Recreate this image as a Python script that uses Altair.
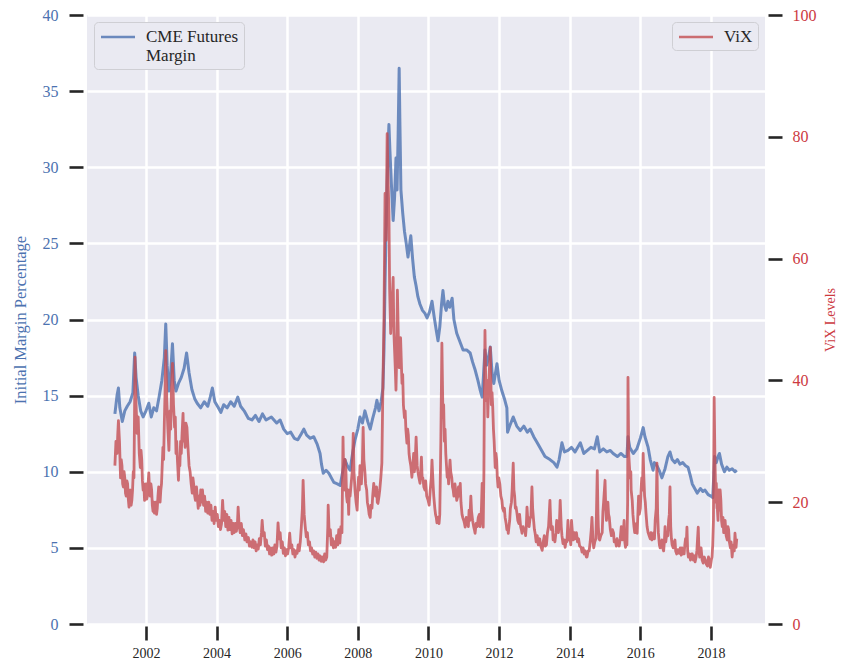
import altair as alt
import pandas as pd

# ---- CME futures initial margin (% , left axis) ----
m_year = [2001.12, 2001.18, 2001.22, 2001.26, 2001.33, 2001.40, 2001.47, 2001.55, 2001.63, 2001.68,
          2001.72, 2001.78, 2001.85, 2001.92, 2002.00, 2002.08, 2002.15, 2002.22, 2002.30, 2002.37,
          2002.45, 2002.52, 2002.56, 2002.60, 2002.65, 2002.70, 2002.75, 2002.80, 2002.85, 2002.92,
          2003.00, 2003.08, 2003.15, 2003.22, 2003.30, 2003.38, 2003.45, 2003.55, 2003.65, 2003.75,
          2003.82, 2003.88, 2003.95, 2004.05, 2004.12, 2004.20, 2004.30, 2004.40, 2004.50, 2004.60,
          2004.68, 2004.78, 2004.90, 2005.00, 2005.10, 2005.20, 2005.30, 2005.40, 2005.55, 2005.70,
          2005.80, 2005.90, 2006.00, 2006.10, 2006.20, 2006.30, 2006.40, 2006.47, 2006.55, 2006.65,
          2006.75, 2006.85, 2006.93, 2006.97, 2007.02, 2007.10, 2007.18, 2007.25, 2007.32, 2007.42,
          2007.50, 2007.57, 2007.63, 2007.70, 2007.78, 2007.85, 2007.92, 2008.00, 2008.06, 2008.13,
          2008.20, 2008.28, 2008.35, 2008.42, 2008.50, 2008.54, 2008.60, 2008.66, 2008.71, 2008.74,
          2008.77, 2008.80, 2008.83, 2008.86, 2008.88, 2008.91, 2008.95, 2009.00, 2009.04, 2009.08,
          2009.11, 2009.14, 2009.17, 2009.19, 2009.22, 2009.27, 2009.32, 2009.37, 2009.42, 2009.47,
          2009.50, 2009.55, 2009.60, 2009.65, 2009.70, 2009.76, 2009.83, 2009.90, 2009.96, 2010.03,
          2010.10, 2010.16, 2010.22, 2010.27, 2010.32, 2010.37, 2010.41, 2010.45, 2010.50, 2010.55,
          2010.60, 2010.67, 2010.72, 2010.80, 2010.88, 2010.98, 2011.08, 2011.18, 2011.25, 2011.32,
          2011.40, 2011.46, 2011.52, 2011.55, 2011.60, 2011.65, 2011.70, 2011.75, 2011.80, 2011.85,
          2011.94, 2012.00, 2012.08, 2012.15, 2012.22, 2012.24, 2012.30, 2012.40, 2012.50, 2012.60,
          2012.70, 2012.80, 2012.88, 2012.98, 2013.08, 2013.18, 2013.30, 2013.44, 2013.55, 2013.64,
          2013.70, 2013.78, 2013.85, 2013.95, 2014.05, 2014.15, 2014.30, 2014.40, 2014.50, 2014.60,
          2014.70, 2014.78, 2014.85, 2014.95, 2015.05, 2015.15, 2015.23, 2015.35, 2015.45, 2015.55,
          2015.62, 2015.65, 2015.70, 2015.80, 2015.90, 2016.00, 2016.08, 2016.13, 2016.22, 2016.28,
          2016.36, 2016.40, 2016.47, 2016.55, 2016.61, 2016.70, 2016.78, 2016.84, 2016.90, 2016.98,
          2017.05, 2017.12, 2017.20, 2017.28, 2017.35, 2017.42, 2017.47, 2017.54, 2017.61, 2017.70,
          2017.77, 2017.83, 2017.92, 2018.00, 2018.05, 2018.08, 2018.10, 2018.15, 2018.20, 2018.24,
          2018.30, 2018.38, 2018.45, 2018.52, 2018.60, 2018.68, 2018.73]
m_val = [13.8, 15.0, 15.5, 14.2, 13.3, 14.0, 14.3, 14.6, 15.2, 17.8,
         16.2, 15.0, 14.0, 13.6, 14.0, 14.5, 13.6, 14.2, 14.0, 14.9,
         16.0, 17.5, 19.7, 17.0, 15.3, 16.5, 18.4, 16.0, 15.3, 15.8,
         16.2, 16.8, 17.8, 16.5, 15.4, 14.8, 14.5, 14.2, 14.6, 14.3,
         14.9, 15.5, 14.6, 14.2, 13.9, 14.4, 14.2, 14.6, 14.3, 14.9,
         14.3, 14.0, 13.5, 13.4, 13.7, 13.3, 13.8, 13.4, 13.6, 13.2,
         13.4, 12.8, 12.5, 12.6, 12.2, 12.1, 12.5, 12.8, 12.4, 12.2,
         12.3, 11.8, 11.2, 10.5, 9.9, 10.1, 9.9, 9.6, 9.3, 9.2,
         9.1, 10.0, 10.8, 10.4, 10.1, 11.2, 12.1, 12.8, 13.6, 13.2,
         14.0, 13.3, 12.8, 13.5, 14.2, 14.7, 14.0, 14.6, 15.5, 18.0,
         22.4, 26.0, 28.9, 31.5, 32.8, 31.0, 28.9, 26.5, 28.0, 30.6,
         28.5, 32.0, 36.5, 33.0, 28.5, 27.0, 25.8, 25.0, 24.1, 25.0,
         25.5, 24.0, 22.8, 22.2, 21.5, 21.0, 20.6, 20.4, 20.1, 20.5,
         21.2, 20.2, 19.3, 18.6, 19.5, 21.0, 21.9, 21.0, 20.6, 21.2,
         20.8, 21.4, 20.0, 19.1, 18.6, 18.0, 18.0, 17.8, 17.2, 16.7,
         16.0, 15.4, 14.9, 16.0, 18.0, 17.0, 17.5, 18.2, 16.5, 15.8,
         17.1, 16.0, 15.3, 14.8, 14.2, 12.6, 13.0, 13.6, 13.0, 12.7,
         13.0, 12.6, 12.8, 12.3, 11.9, 11.5, 11.0, 10.8, 10.6, 10.3,
         10.8, 11.9, 11.3, 11.4, 11.6, 11.3, 11.9, 11.2, 11.4, 11.6,
         11.5, 12.3, 11.3, 11.5, 11.3, 11.4, 11.2, 11.0, 11.2, 11.0,
         11.0, 12.3, 11.6, 11.2, 11.5, 12.2, 12.9, 12.3, 11.6, 10.8,
         10.1, 10.6, 10.4, 10.0, 9.6, 10.2, 11.0, 11.3, 10.8, 10.6,
         10.8, 10.5, 10.6, 10.4, 10.3, 9.7, 9.2, 8.9, 8.6, 8.9,
         8.7, 8.8, 8.5, 8.4, 8.3, 9.8, 11.0, 10.6, 11.0, 11.2,
         10.5, 10.0, 10.3, 10.1, 10.2, 10.0, 10.1]

# ---- VIX level (right axis), (decimal year, level) ----
vix_2001_2003 = [
    (2001.12, 26.0), (2001.15, 30.0), (2001.18, 28.0), (2001.20, 31.0), (2001.22, 33.4), (2001.25, 30.0),
    (2001.28, 24.0), (2001.30, 27.0), (2001.32, 26.0), (2001.34, 23.0), (2001.36, 22.5), (2001.38, 25.0),
    (2001.40, 24.0), (2001.42, 21.5), (2001.44, 21.0), (2001.46, 23.5), (2001.48, 23.0), (2001.50, 20.5),
    (2001.52, 19.2), (2001.54, 21.0), (2001.56, 22.0), (2001.58, 19.5), (2001.60, 20.3), (2001.62, 22.0),
    (2001.64, 25.0), (2001.66, 24.0), (2001.69, 43.8), (2001.72, 36.0), (2001.75, 31.3), (2001.78, 34.0),
    (2001.81, 28.0), (2001.84, 25.7), (2001.86, 28.5), (2001.88, 27.0), (2001.90, 23.5), (2001.92, 22.0),
    (2001.94, 23.0), (2001.96, 20.3), (2001.98, 22.5), (2002.00, 23.0), (2002.02, 20.5), (2002.04, 21.0),
    (2002.06, 23.0), (2002.08, 24.8), (2002.10, 22.0), (2002.12, 21.0), (2002.14, 23.0), (2002.16, 22.0),
    (2002.18, 19.5), (2002.20, 18.5), (2002.22, 20.0), (2002.24, 18.2), (2002.26, 19.5), (2002.28, 20.0),
    (2002.30, 18.0), (2002.32, 19.0), (2002.34, 21.0), (2002.36, 22.5), (2002.38, 20.5), (2002.40, 20.0),
    (2002.42, 22.0), (2002.44, 23.0), (2002.46, 26.0), (2002.48, 29.0), (2002.50, 27.0), (2002.52, 33.0),
    (2002.54, 38.0), (2002.56, 44.9), (2002.59, 36.7), (2002.62, 32.0), (2002.65, 28.5), (2002.68, 35.0),
    (2002.70, 32.0), (2002.72, 38.0), (2002.75, 42.8), (2002.78, 36.0), (2002.81, 32.3), (2002.83, 34.0),
    (2002.85, 28.0), (2002.87, 30.0), (2002.89, 27.0), (2002.92, 23.6), (2002.94, 27.0), (2002.96, 26.0),
    (2002.98, 30.0), (2003.00, 28.0), (2003.02, 31.0), (2003.05, 34.6), (2003.07, 30.0), (2003.09, 31.0),
    (2003.11, 29.0), (2003.13, 33.0), (2003.16, 32.3), (2003.18, 30.0), (2003.20, 28.0), (2003.22, 26.0),
    (2003.25, 25.0), (2003.28, 23.0), (2003.31, 21.5), (2003.33, 24.0), (2003.35, 23.0), (2003.38, 21.0),
]
vix_2003_2007 = [
    (2003.40, 20.3), (2003.43, 22.5), (2003.45, 21.0), (2003.48, 19.0), (2003.50, 21.0), (2003.53, 19.5),
    (2003.55, 22.0), (2003.58, 20.0), (2003.60, 22.0), (2003.63, 19.5), (2003.66, 21.0), (2003.69, 18.5),
    (2003.72, 20.0), (2003.75, 18.2), (2003.78, 20.0), (2003.81, 18.0), (2003.84, 19.5), (2003.87, 17.0),
    (2003.90, 18.5), (2003.93, 16.5), (2003.96, 19.2), (2003.99, 17.0), (2004.02, 18.0), (2004.05, 16.0),
    (2004.08, 17.0), (2004.11, 15.5), (2004.14, 16.5), (2004.17, 20.3), (2004.20, 17.0), (2004.23, 18.5),
    (2004.26, 16.0), (2004.29, 18.0), (2004.32, 15.4), (2004.35, 17.5), (2004.38, 15.5), (2004.41, 17.0),
    (2004.44, 14.8), (2004.47, 16.5), (2004.50, 15.0), (2004.53, 16.5), (2004.56, 15.2), (2004.59, 16.5),
    (2004.61, 19.2), (2004.64, 16.0), (2004.67, 15.0), (2004.70, 16.5), (2004.73, 14.5), (2004.76, 15.5),
    (2004.80, 13.8), (2004.83, 14.8), (2004.86, 13.5), (2004.90, 14.2), (2004.93, 12.8), (2004.96, 13.5),
    (2005.00, 12.6), (2005.03, 13.8), (2005.06, 12.5), (2005.09, 13.5), (2005.12, 12.0), (2005.15, 13.0),
    (2005.18, 12.3), (2005.21, 14.0), (2005.24, 13.0), (2005.27, 15.0), (2005.29, 17.0), (2005.32, 14.5),
    (2005.35, 15.0), (2005.38, 12.8), (2005.41, 13.8), (2005.44, 12.2), (2005.47, 12.8), (2005.50, 11.5),
    (2005.53, 12.5), (2005.56, 11.3), (2005.59, 12.5), (2005.62, 11.5), (2005.65, 13.0), (2005.68, 11.8),
    (2005.71, 12.8), (2005.74, 16.6), (2005.77, 14.0), (2005.80, 15.0), (2005.83, 12.5), (2005.86, 13.5),
    (2005.89, 11.6), (2005.92, 12.5), (2005.95, 11.2), (2005.98, 12.2), (2006.01, 11.5), (2006.04, 12.5),
    (2006.07, 14.9), (2006.10, 12.5), (2006.13, 13.0), (2006.16, 11.5), (2006.19, 12.2), (2006.22, 11.0),
    (2006.25, 12.0), (2006.28, 11.6), (2006.31, 13.0), (2006.34, 12.0), (2006.37, 13.5), (2006.40, 16.0),
    (2006.43, 19.0), (2006.45, 23.6), (2006.48, 18.0), (2006.51, 16.0), (2006.54, 14.3), (2006.57, 15.0),
    (2006.60, 13.0), (2006.63, 13.5), (2006.66, 12.0), (2006.69, 12.5), (2006.72, 11.5), (2006.75, 12.0),
    (2006.78, 11.0), (2006.81, 11.8), (2006.84, 10.8), (2006.87, 11.5), (2006.90, 10.5), (2006.93, 11.2),
    (2006.96, 10.3), (2007.00, 11.0), (2007.03, 10.2), (2007.06, 11.5), (2007.09, 10.5), (2007.12, 11.0),
    (2007.15, 16.0), (2007.16, 19.5), (2007.19, 14.5), (2007.22, 15.5), (2007.25, 13.0), (2007.28, 14.0),
    (2007.31, 12.5), (2007.34, 13.5), (2007.37, 12.6), (2007.40, 14.5), (2007.43, 13.0), (2007.46, 15.5),
    (2007.49, 13.3), (2007.52, 16.0), (2007.55, 15.0),
]
vix_2007_2011 = [
    (2007.58, 30.7), (2007.60, 24.0), (2007.62, 22.0), (2007.64, 27.0), (2007.66, 25.7), (2007.68, 21.0),
    (2007.70, 20.0), (2007.72, 22.0), (2007.74, 18.0), (2007.76, 22.0), (2007.78, 21.0), (2007.81, 23.0),
    (2007.84, 25.0), (2007.87, 31.3), (2007.89, 25.0), (2007.92, 22.0), (2007.95, 20.0), (2007.98, 18.7),
    (2008.00, 22.0), (2008.02, 24.1), (2008.04, 22.0), (2008.06, 26.0), (2008.08, 24.0), (2008.10, 23.0),
    (2008.13, 27.0), (2008.15, 32.3), (2008.17, 27.0), (2008.20, 25.0), (2008.22, 23.0), (2008.25, 22.0),
    (2008.27, 20.0), (2008.30, 19.0), (2008.32, 18.0), (2008.35, 17.5), (2008.37, 19.5), (2008.40, 19.0),
    (2008.42, 21.0), (2008.45, 23.1), (2008.47, 22.0), (2008.50, 21.0), (2008.53, 22.5), (2008.55, 20.0),
    (2008.57, 19.8), (2008.60, 21.0), (2008.62, 22.0), (2008.65, 24.0), (2008.68, 26.4), (2008.71, 39.5),
    (2008.74, 50.0), (2008.77, 70.7), (2008.80, 63.0), (2008.83, 80.5), (2008.86, 72.0), (2008.88, 67.9),
    (2008.90, 55.0), (2008.93, 47.7), (2008.97, 53.0), (2009.00, 56.9), (2009.02, 48.0), (2009.04, 45.0),
    (2009.06, 42.0), (2009.08, 38.4), (2009.10, 44.0), (2009.12, 54.8), (2009.15, 46.0), (2009.17, 42.1),
    (2009.19, 45.0), (2009.21, 47.0), (2009.25, 39.5), (2009.27, 41.0), (2009.29, 36.0), (2009.32, 33.9),
    (2009.34, 35.0), (2009.36, 32.0), (2009.39, 29.7), (2009.41, 32.0), (2009.43, 31.0), (2009.45, 28.0),
    (2009.47, 27.0), (2009.50, 26.0), (2009.53, 24.1), (2009.56, 26.0), (2009.58, 28.0), (2009.60, 25.0),
    (2009.62, 26.0), (2009.65, 30.7), (2009.68, 26.0), (2009.70, 25.0), (2009.73, 24.0), (2009.76, 23.1),
    (2009.78, 25.0), (2009.80, 27.4), (2009.82, 24.0), (2009.84, 24.0), (2009.87, 22.5), (2009.90, 22.0),
    (2009.92, 23.5), (2009.95, 21.0), (2009.99, 20.3), (2010.02, 19.5), (2010.05, 22.0), (2010.08, 24.0),
    (2010.10, 26.9), (2010.13, 23.0), (2010.15, 21.0), (2010.18, 19.0), (2010.20, 18.0), (2010.22, 17.5),
    (2010.24, 16.6), (2010.26, 17.5), (2010.28, 17.5), (2010.30, 16.5), (2010.32, 18.0), (2010.35, 30.0),
    (2010.38, 46.1), (2010.41, 33.9), (2010.43, 36.0), (2010.45, 30.0), (2010.47, 32.0), (2010.49, 28.0),
    (2010.51, 26.0), (2010.53, 24.1), (2010.55, 25.0), (2010.57, 23.0), (2010.59, 25.0), (2010.61, 26.9),
    (2010.63, 25.0), (2010.66, 24.0), (2010.68, 22.5), (2010.70, 22.0), (2010.72, 21.0), (2010.75, 23.0),
    (2010.78, 21.5), (2010.80, 20.3), (2010.83, 21.0), (2010.85, 22.5), (2010.88, 21.0), (2010.90, 23.1),
    (2010.92, 20.0), (2010.95, 18.0), (2010.97, 17.5), (2011.00, 17.0), (2011.02, 16.5), (2011.04, 15.9),
    (2011.07, 17.5), (2011.10, 17.0), (2011.13, 16.0), (2011.15, 18.7), (2011.17, 17.0), (2011.20, 21.0),
    (2011.22, 18.5), (2011.25, 17.0), (2011.28, 16.0), (2011.30, 15.5), (2011.32, 14.9), (2011.35, 16.5),
    (2011.38, 16.0), (2011.41, 17.5), (2011.44, 18.0), (2011.46, 16.0), (2011.48, 17.0), (2011.50, 19.0),
    (2011.52, 23.1), (2011.54, 18.0), (2011.55, 15.9), (2011.57, 25.0), (2011.58, 35.0), (2011.60, 48.2),
    (2011.63, 36.7), (2011.66, 40.0), (2011.68, 34.0), (2011.70, 38.0), (2011.72, 41.0), (2011.75, 45.4),
    (2011.78, 36.0), (2011.80, 38.0), (2011.82, 35.6), (2011.84, 32.0), (2011.86, 30.0), (2011.89, 25.7),
    (2011.91, 28.0), (2011.93, 27.0), (2011.95, 24.0), (2011.97, 22.5), (2011.99, 24.0),
]
vix_2012_2014 = [
    (2012.02, 23.0), (2012.05, 21.0), (2012.08, 20.3), (2012.10, 19.0), (2012.13, 18.5), (2012.15, 19.0),
    (2012.17, 17.5), (2012.20, 16.5), (2012.22, 15.5), (2012.24, 16.0), (2012.26, 14.9), (2012.28, 16.0),
    (2012.30, 17.0), (2012.32, 19.0), (2012.35, 20.0), (2012.37, 22.0), (2012.40, 26.4), (2012.42, 22.0),
    (2012.44, 21.0), (2012.46, 19.0), (2012.48, 19.2), (2012.51, 18.0), (2012.53, 17.0), (2012.56, 16.5),
    (2012.58, 18.0), (2012.61, 16.0), (2012.63, 15.5), (2012.65, 14.9), (2012.68, 16.0), (2012.70, 15.5),
    (2012.73, 15.5), (2012.75, 14.5), (2012.77, 16.0), (2012.79, 19.2), (2012.82, 16.5), (2012.85, 16.0),
    (2012.88, 17.5), (2012.90, 17.5), (2012.93, 22.5), (2012.95, 19.0), (2012.97, 17.5), (2013.00, 15.5),
    (2013.02, 14.9), (2013.05, 13.5), (2013.08, 14.5), (2013.11, 13.0), (2013.15, 14.0), (2013.18, 12.8),
    (2013.22, 12.1), (2013.25, 13.5), (2013.28, 14.5), (2013.31, 12.8), (2013.34, 13.0), (2013.37, 15.0),
    (2013.40, 16.0), (2013.44, 20.3), (2013.46, 17.0), (2013.48, 15.5), (2013.51, 16.0), (2013.53, 13.8),
    (2013.56, 14.5), (2013.58, 13.5), (2013.61, 15.0), (2013.63, 17.0), (2013.66, 15.5), (2013.68, 15.0),
    (2013.71, 17.0), (2013.73, 20.3), (2013.76, 16.0), (2013.78, 14.5), (2013.81, 13.2), (2013.84, 13.8),
    (2013.87, 12.6), (2013.90, 13.8), (2013.92, 13.5), (2013.95, 17.0), (2013.98, 13.8), (2014.00, 14.5),
    (2014.03, 13.0), (2014.05, 17.0), (2014.07, 15.5), (2014.10, 13.8), (2014.13, 15.0), (2014.16, 14.0),
    (2014.19, 15.0), (2014.22, 13.5), (2014.25, 14.0), (2014.28, 12.8), (2014.32, 12.6), (2014.35, 11.8),
    (2014.38, 12.5), (2014.41, 11.5), (2014.44, 12.0), (2014.47, 11.0), (2014.49, 11.0), (2014.52, 12.0),
    (2014.55, 12.0), (2014.58, 13.5), (2014.61, 15.5), (2014.63, 17.5), (2014.66, 13.5), (2014.68, 12.5),
    (2014.71, 13.5), (2014.74, 14.0), (2014.76, 19.0), (2014.78, 25.2), (2014.80, 18.0), (2014.81, 16.0),
    (2014.83, 14.0), (2014.85, 13.8), (2014.88, 14.5), (2014.92, 15.0), (2014.94, 18.5), (2014.96, 20.0),
]
vix_2015_2018 = [
    (2015.00, 23.6), (2015.02, 19.0), (2015.04, 17.0), (2015.06, 19.0), (2015.08, 20.0), (2015.10, 18.0),
    (2015.12, 17.5), (2015.15, 15.5), (2015.18, 14.5), (2015.21, 15.5), (2015.24, 15.0), (2015.26, 13.5),
    (2015.29, 13.8), (2015.32, 12.8), (2015.34, 14.0), (2015.37, 13.0), (2015.40, 12.8), (2015.43, 14.0),
    (2015.46, 16.0), (2015.48, 14.5), (2015.49, 13.8), (2015.52, 15.0), (2015.54, 17.0), (2015.56, 13.5),
    (2015.58, 12.6), (2015.60, 13.5), (2015.62, 13.0), (2015.64, 20.0), (2015.65, 40.5), (2015.67, 28.0),
    (2015.69, 26.0), (2015.71, 24.0), (2015.73, 25.0), (2015.74, 22.0), (2015.77, 20.3), (2015.79, 18.0),
    (2015.82, 16.0), (2015.84, 15.0), (2015.87, 15.0), (2015.89, 16.5), (2015.91, 14.9), (2015.93, 18.0),
    (2015.95, 21.0), (2015.97, 18.0), (2016.00, 19.0), (2016.02, 22.0), (2016.04, 24.0), (2016.06, 22.0),
    (2016.08, 28.0), (2016.10, 24.0), (2016.12, 21.0), (2016.14, 20.0), (2016.16, 18.2), (2016.19, 16.0),
    (2016.22, 15.0), (2016.25, 14.5), (2016.28, 14.0), (2016.30, 15.0), (2016.33, 13.8), (2016.36, 14.5),
    (2016.38, 15.0), (2016.40, 14.0), (2016.42, 17.0), (2016.45, 19.0), (2016.47, 26.4), (2016.49, 18.0),
    (2016.51, 15.0), (2016.54, 13.0), (2016.56, 12.5), (2016.58, 13.0), (2016.61, 13.8), (2016.63, 12.5),
    (2016.66, 12.0), (2016.68, 13.5), (2016.70, 16.0), (2016.72, 13.5), (2016.75, 14.9), (2016.78, 14.5),
    (2016.80, 17.0), (2016.82, 18.0), (2016.84, 22.5), (2016.86, 16.0), (2016.88, 14.0), (2016.90, 13.0),
    (2016.93, 12.5), (2016.96, 13.5), (2016.98, 13.8), (2017.00, 12.0), (2017.03, 11.5), (2017.06, 12.2),
    (2017.10, 11.6), (2017.13, 12.5), (2017.16, 11.3), (2017.18, 12.5), (2017.21, 11.5), (2017.24, 11.5),
    (2017.26, 13.0), (2017.28, 14.0), (2017.30, 13.0), (2017.32, 15.9), (2017.34, 12.0), (2017.36, 11.0),
    (2017.39, 11.5), (2017.42, 10.5), (2017.45, 11.5), (2017.47, 11.5), (2017.50, 10.5), (2017.53, 11.2),
    (2017.55, 10.2), (2017.58, 11.0), (2017.60, 12.0), (2017.62, 14.0), (2017.64, 15.9), (2017.66, 12.0),
    (2017.68, 11.0), (2017.70, 12.5), (2017.72, 12.5), (2017.75, 10.5), (2017.78, 10.0), (2017.81, 11.0),
    (2017.84, 10.5), (2017.87, 9.8), (2017.90, 9.5), (2017.93, 11.0), (2017.95, 10.5), (2017.98, 9.3),
    (2018.01, 10.5), (2018.03, 11.0), (2018.05, 13.0), (2018.07, 17.0), (2018.09, 37.2), (2018.11, 28.0),
    (2018.12, 25.0), (2018.14, 20.0), (2018.15, 23.1), (2018.17, 19.0), (2018.18, 19.0), (2018.20, 17.0),
    (2018.22, 22.0), (2018.24, 18.7), (2018.26, 22.0), (2018.28, 20.3), (2018.30, 17.0), (2018.32, 16.0),
    (2018.34, 17.5), (2018.36, 15.0), (2018.38, 16.0), (2018.40, 17.0), (2018.43, 14.5), (2018.46, 13.8),
    (2018.48, 16.0), (2018.50, 15.5), (2018.52, 13.5), (2018.55, 12.5), (2018.57, 13.5), (2018.60, 11.0),
    (2018.62, 12.5), (2018.64, 13.0), (2018.66, 12.0), (2018.68, 14.9), (2018.71, 12.6), (2018.73, 14.0),
]

x_ticks = [2002, 2004, 2006, 2008, 2010, 2012, 2014, 2016, 2018]
left_ticks = [0, 5, 10, 15, 20, 25, 30, 35, 40]
right_ticks = [0, 20, 40, 60, 80, 100]

vix_points = vix_2001_2003 + vix_2003_2007 + vix_2007_2011 + vix_2012_2014 + vix_2015_2018
margin_df = pd.DataFrame({"year": m_year, "value": m_val, "series": "CME Futures Margin"})
vix_df = pd.DataFrame(vix_points, columns=["year", "value"])
vix_df["series"] = "ViX"

FONT = "Liberation Serif"
BLUE = "#4c72b0"
RED = "#c44e52"
RED_TXT = "#cc3a3f"
INK = "#262626"

x_enc = alt.X(
    "year:Q",
    scale=alt.Scale(domain=[2000.33, 2019.53], nice=False, zero=False),
    axis=alt.Axis(values=x_ticks, format="d", title=None, grid=True, domain=False,
                  tickColor=INK, tickWidth=2.6, tickSize=14, offset=2,
                  labelPadding=6, labelFontSize=14, labelColor=INK),
)

legend_common = dict(title=None, symbolType="M-2,0H2", symbolSize=289, symbolOffset=9,
                     symbolStrokeWidth=2.5, symbolOpacity=0.8, labelFontSize=17,
                     labelColor=INK, labelFont=FONT, fillColor="#EAEAF2",
                     strokeColor="#cfcfd4", cornerRadius=4, offset=7, padding=5,
                     labelOffset=18)

margin_line = alt.Chart(margin_df).mark_line(
    strokeWidth=3, opacity=0.8, strokeJoin="round"
).encode(
    x=x_enc,
    y=alt.Y("value:Q", scale=alt.Scale(domain=[0, 40], nice=False),
            axis=alt.Axis(values=left_ticks, title="Initial Margin Percentage",
                          orient="left", grid=True, domain=False, offset=4,
                          tickColor=INK, tickWidth=2.6, tickSize=14, labelPadding=11,
                          labelFontSize=16, labelColor=BLUE, titleColor=BLUE,
                          titleFontSize=16.5, titleFontWeight="normal", titlePadding=14)),
    color=alt.Color("series:N", scale=alt.Scale(range=[BLUE]),
                    legend=alt.Legend(orient="top-left",
                                      labelExpr="datum.label == 'CME Futures Margin' ? ['CME Futures', 'Margin'] : datum.label",
                                      **legend_common)),
)

vix_line = alt.Chart(vix_df).mark_line(
    strokeWidth=2.8, opacity=0.8, strokeJoin="round"
).encode(
    x=x_enc,
    y=alt.Y("value:Q", scale=alt.Scale(domain=[0, 100], nice=False),
            axis=alt.Axis(values=right_ticks, title="ViX Levels", orient="right",
                          grid=False, domain=False, offset=3,
                          tickColor=INK, tickWidth=2.6, tickSize=14, labelPadding=10,
                          labelFontSize=16, labelColor=RED_TXT, titleColor=RED_TXT,
                          titleFontSize=14, titleFontWeight="normal", titlePadding=7,
                          titleAngle=270, titleBaseline="top")),
    color=alt.Color("series:N", scale=alt.Scale(range=[RED]),
                    legend=alt.Legend(orient="top-right", **legend_common)),
)

chart = alt.layer(margin_line, vix_line).resolve_scale(
    y="independent", color="independent"
).properties(
    width=678, height=609,
    autosize=alt.AutoSizeParams(type="none"),
    padding={"left": 79, "top": 7, "right": 71, "bottom": 38},
    background="white",
).configure_view(
    fill="#EAEAF2", stroke=None
).configure_axis(
    gridColor="white", gridWidth=2.5, labelFont=FONT, titleFont=FONT,
).configure_legend(
    labelFont=FONT,
)

chart.save("out.html", embed_options={"renderer": "svg", "actions": False})
